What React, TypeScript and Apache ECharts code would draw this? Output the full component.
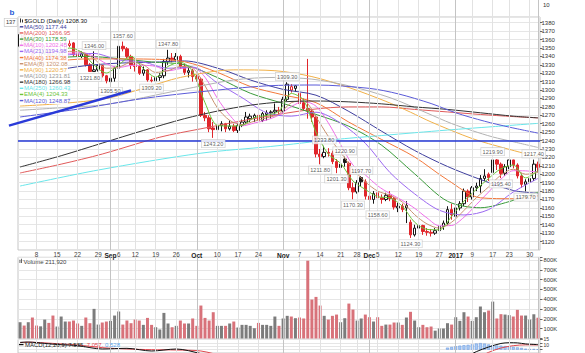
import React, { useEffect, useRef } from 'react';
import * as echarts from 'echarts';

const FONT = '"Liberation Sans", Arial, sans-serif';

const dates = [
  'Aug 2','Aug 3','Aug 4','Aug 5','Aug 8','Aug 9','Aug 10','Aug 11','Aug 12','Aug 15','Aug 16','Aug 17','Aug 18','Aug 19','Aug 22','Aug 23','Aug 24','Aug 25','Aug 26','Aug 29','Aug 30','Aug 31',
  'Sep 1','Sep 2','Sep 6','Sep 7','Sep 8','Sep 9','Sep 12','Sep 13','Sep 14','Sep 15','Sep 16','Sep 19','Sep 20','Sep 21','Sep 22','Sep 23','Sep 26','Sep 27','Sep 28','Sep 29','Sep 30',
  'Oct 3','Oct 4','Oct 5','Oct 6','Oct 7','Oct 10','Oct 11','Oct 12','Oct 13','Oct 14','Oct 17','Oct 18','Oct 19','Oct 20','Oct 21','Oct 24','Oct 25','Oct 26','Oct 27','Oct 28','Oct 31',
  'Nov 1','Nov 2','Nov 3','Nov 4','Nov 7','Nov 8','Nov 9','Nov 10','Nov 11','Nov 14','Nov 15','Nov 16','Nov 17','Nov 18','Nov 21','Nov 22','Nov 23','Nov 25','Nov 28','Nov 29','Nov 30',
  'Dec 1','Dec 2','Dec 5','Dec 6','Dec 7','Dec 8','Dec 9','Dec 12','Dec 13','Dec 14','Dec 15','Dec 16','Dec 19','Dec 20','Dec 21','Dec 22','Dec 23','Dec 27','Dec 28','Dec 29','Dec 30',
  'Jan 3','Jan 4','Jan 5','Jan 6','Jan 9','Jan 10','Jan 11','Jan 12','Jan 13','Jan 17','Jan 18','Jan 19','Jan 20','Jan 23','Jan 24','Jan 25','Jan 26','Jan 27','Jan 30','Jan 31',
  'Feb 1',
];

const opens = [
  1352,1365,1357,1362,1337,1334,1344,1348,1339,1337,
  1340,1347,1353,1356,1343,1340,1343,1330,1322,1324,
  1329,1317,1310,1314,1326,1352,1349,1340,1330,1328,
  1320,1324,1312,1311,1315,1317,1334,1338,1336,1340,
  1328,1321,1323,1316,1313,1270,1267,1255,1253,1258,
  1260,1254,1257,1252,1258,1262,1266,1267,1270,1264,
  1271,1273,1274,1276,1275,1289,1300,1302,1296,1285,
  1278,1275,1268,1224,1221,1226,1225,1215,1208,1218,
  1213,1184,1179,1196,1191,1174,1170,1178,1172,1170,
  1175,1171,1160,1162,1160,1143,1128,1136,1139,1132,
  1131,1130,1133,1138,1142,1158,1150,1160,1165,1180,
  1173,1184,1186,1195,1200,1202,1217,1212,1201,1209,
  1217,1211,1198,1188,1191,1195,1212,
];
const highs = [
  1375,1368,1364,1366,1341,1350,1353,1351,1344,1344,
  1357,1358,1359,1357,1345,1346,1344,1332,1346,1331,
  1330,1318,1318,1328,1354,1357.6,1351,1342,1334,1330,
  1328,1325,1316,1318,1320,1337,1347.8,1344,1344,1342,
  1331,1328,1325,1318,1315,1274,1270,1262,1265,1263,
  1261,1264,1260,1261,1265,1274,1272,1272,1272,1274,
  1276,1276,1284,1280,1292,1309.3,1307,1306,1300,1290,
  1337,1278,1270,1230,1233.8,1231,1228,1218,1216,1220.9,
  1215,1190,1193,1197.7,1194,1178,1180,1180,1176,1178,
  1180,1173,1166,1165,1168,1146,1140,1144,1140,1136,
  1135,1136,1140,1145,1162,1165,1164,1168,1183,1182,
  1186,1190,1199,1206,1202,1219.9,1218,1214,1212,1217,
  1217.2,1213,1201,1194,1198,1217.4,1215,
];
const lows = [
  1350,1352,1352,1334,1330,1333,1342,1336,1333,1335,
  1338,1345,1351,1340,1336,1338,1328,1321.8,1322,1322,
  1315,1308,1305.5,1310,1325,1346,1338,1325,1322,1318,
  1317,1310,1309.2,1309.5,1311,1314,1330,1333,1334,1325,
  1318,1315,1310,1310,1268,1263,1250,1243.2,1252,1251,
  1250,1252,1250,1249,1256,1260,1262,1262,1262,1262,
  1264,1266,1270,1271,1273,1287,1297,1298,1281,1276,
  1266,1262,1220,1211.8,1219,1221,1212,1201.3,1204,1209,
  1181,1170.3,1177,1186,1170,1163,1165,1158.6,1165,1168,
  1168,1158,1155,1155,1142,1124.3,1126,1133,1128,1127,
  1126,1128,1130,1134,1140,1146,1146,1157,1162,1167,
  1170,1180,1178,1192,1192,1200,1205,1195.4,1198,1206,
  1207,1195,1184,1179.7,1186,1192,1202,
];
const closes = [
  1366,1357,1362,1337,1334,1344,1348,1339,1337,1340,
  1347,1356,1355,1342,1340,1343,1330,1322,1324,1329,
  1317,1311,1314,1326,1352,1349,1340,1330,1328,1320,
  1324,1312,1311,1315,1317,1334,1338,1336,1340,1328,
  1321,1323,1316,1313,1270,1267,1254,1253,1258,1260,
  1254,1257,1252,1258,1262,1268,1269,1270,1264,1272,
  1273,1274,1276,1275,1289,1307,1304,1305,1284,1278,
  1275,1268,1224,1221,1226,1225,1215,1208,1212,1214,
  1184,1179,1190,1191,1174,1170,1177,1172,1170,1175,
  1171,1161,1162,1158,1163,1128,1136,1139,1132,1131,
  1130,1133,1138,1142,1158,1152,1160,1165,1180,1173,
  1184,1186,1195,1198,1196,1217,1212,1201,1209,1217,
  1211,1198,1188,1191,1195,1212,1208.3,
];
const volumesK = [
  166,132,166,214,132,124,193,159,234,122,
  224,173,173,183,153,129,214,156,302,142,
  163,173,180,234,275,142,183,156,193,183,
  139,210,139,115,92,261,153,115,129,183,
  153,153,204,129,336,210,183,268,129,129,
  129,153,173,112,139,139,129,105,159,139,
  139,129,224,129,204,231,224,207,214,204,
  793,397,424,336,231,193,231,244,166,207,
  356,295,183,204,244,217,173,217,129,142,
  142,163,163,139,214,272,183,115,139,115,
  122,80,102,102,156,142,217,180,268,224,
  180,217,326,268,285,376,204,248,244,238,
  224,292,234,234,193,247,211.92,
];
const volumeTicks = [100, 200, 300, 400, 500, 600, 700, 800];

// moving-average lines read at sampled days: [day index, value]
const ma50 = [[0,1316],[8,1323],[16,1329],[24,1332],[32,1333],[40,1334.6],[49,1324.6],[56,1312],[64,1300.8],[72,1293.9],[80,1274.6],[88,1251],[96,1228.2],[104,1209.2],[112,1193.8],[120,1180.7],[126,1177.44]];
const ma200 = [[0,1201.5],[10,1212],[20,1224],[34,1244],[44,1254],[58,1267],[71,1277],[80,1280],[88,1280],[96,1277],[104,1274],[112,1271],[120,1268.5],[126,1266.95]];
const ma30 = [[0,1335],[8,1338],[16,1340],[24,1337.4],[32,1333.4],[40,1330.1],[48,1314.9],[56,1296.3],[64,1284.1],[72,1271.1],[80,1257],[88,1234.4],[96,1200.5],[104,1167.9],[112,1160.2],[120,1168.9],[126,1178.59]];
const ma10 = [[0,1335.6],[3,1345.2],[6,1349.2],[9,1346.4],[12,1343.7],[15,1344.7],[18,1339.9],[21,1331.3],[24,1326.8],[27,1329.2],[30,1329.4],[33,1328.1],[36,1322.9],[39,1325.5],[42,1326.8],[45,1315.2],[48,1290.3],[51,1270.2],[54,1257.5],[57,1260.8],[60,1264.5],[63,1270.3],[66,1280.4],[69,1286.5],[72,1280.9],[75,1261],[78,1235.2],[81,1210.8],[84,1199.2],[87,1186.3],[90,1176.9],[93,1169],[96,1159.6],[99,1148.1],[102,1138.8],[105,1139.1],[108,1148.9],[111,1163.8],[114,1178.9],[117,1194.2],[120,1204.2],[123,1204],[126,1202.45]];
const ma21 = [[0,1336],[6,1338],[12,1342],[18,1343.5],[24,1335.7],[30,1333.3],[36,1325.9],[42,1327.3],[48,1308.5],[54,1291],[60,1273],[66,1269],[72,1273.7],[78,1260.7],[84,1236.8],[90,1202],[96,1176.7],[102,1157.2],[108,1151.6],[114,1158],[120,1178.9],[126,1194.98]];
const ma40 = [[0,1330],[8,1334],[16,1337],[24,1337],[32,1336.7],[40,1333.7],[48,1321.1],[56,1304.3],[64,1294.3],[72,1285],[80,1261.9],[88,1241.2],[96,1220.5],[104,1193.3],[112,1172],[120,1170.9],[126,1174.38]];
const ema8 = [[0,1352],[3,1352],[6,1348],[9,1343],[12,1346],[15,1345],[18,1337],[21,1326],[24,1327],[27,1333],[30,1330],[33,1321],[36,1323],[39,1328],[42,1326],[45,1305],[48,1279],[51,1264],[54,1259],[57,1263],[60,1267],[63,1271.5],[66,1285],[69,1287],[72,1268],[75,1245],[78,1226],[81,1206],[84,1191],[87,1180],[90,1175],[93,1167],[96,1152],[99,1141],[102,1136],[105,1143],[108,1157],[111,1172],[114,1185],[117,1199],[120,1206],[123,1200],[126,1202.08]];
const ma90 = [[0,1281],[10,1284],[21,1290],[30,1302],[39,1315],[52,1324],[62,1323],[71,1316],[80,1303],[89,1286.6],[95,1273.7],[100,1262.1],[110,1242.4],[118,1230.9],[126,1220.57]];
const ma100 = [[0,1276],[10,1279],[21,1283],[39,1300],[52,1312],[62,1315],[71,1313],[80,1305],[90,1291],[99,1272.7],[105,1260.2],[110,1251.8],[115,1244.3],[120,1238.6],[126,1231.81]];
const ma180 = [[0,1208.6],[10,1222],[20,1237],[30,1252],[40,1266],[48,1275],[56,1282],[64,1286],[72,1287],[80,1286],[88,1283.6],[96,1280],[104,1277],[112,1273],[120,1269],[126,1266.98]];
const ma250 = [[0,1186],[19,1205],[44,1225],[61,1233],[76,1241],[88,1246],[104,1252.5],[115,1256.5],[126,1260.43]];
const ema4 = [[0,1360],[3,1352],[6,1343],[9,1341],[12,1350],[15,1345],[18,1329.8],[21,1320.3],[24,1330],[27,1340],[30,1325.5],[33,1315.5],[36,1328],[39,1333],[42,1322],[45,1285],[48,1258],[51,1257.3],[54,1258],[57,1267.3],[60,1270],[63,1275],[66,1296],[69,1288],[72,1250],[75,1224],[78,1213],[81,1192],[84,1182],[87,1173.3],[90,1172],[93,1162],[96,1143],[99,1134.5],[102,1134],[105,1150],[108,1168],[111,1182],[114,1195],[117,1206.5],[120,1211],[123,1195.6],[126,1204.33]];
const ma120 = [[0,1268],[15,1278],[30,1290],[44,1298],[60,1305],[72,1306],[85,1302],[92,1295.5],[100,1284],[106,1273],[113,1263],[119,1256],[126,1248.87]];

const legendNames = ['MA(50)','MA(200)','MA(30)','MA(10)','MA(21)','MA(40)','EMA(8)','MA(90)','MA(100)','MA(180)','MA(250)','EMA(4)','MA(120)'];
const legendValues = ['1177.44','1266.95','1178.59','1202.45','1194.98','1174.38','1202.08','1220.57','1231.81','1266.98','1260.43','1204.33','1248.87'];
const lineColors = ['#3f3f9e','#e05a5a','#3a9a3a','#ef6ee9','#9b68f0','#f2783a','#c89270','#f0b048','#b2b2b2','#333333','#6ae6ea','#6cc43a','#5a5ad8'];
const lineData = [ma50, ma200, ma30, ma10, ma21, ma40, ema8, ma90, ma100, ma180, ma250, ema4, ma120];

const macdLine = [[0,10.9],[2,11.4],[4,10.6],[6,9.4],[8,8.2],[10,7.4],[14,6],[20,1],[26,2],[32,-2],[38,1],[44,-6],[50,-16],[58,-17],[66,-6],[72,-14],[80,-26],[90,-30],[96,-32],[104,-24],[108,-12],[111,-3],[114,4],[117,9.3],[119,10.4],[121,10.2],[123,8.6],[126,7.585]];
const macdSignal = [[0,10.6],[2,11.2],[4,10.9],[6,10.2],[8,9.4],[10,8.6],[14,7],[20,3],[26,1],[32,0],[38,-0.5],[44,-2],[50,-10],[58,-15],[66,-11],[72,-11],[80,-20],[90,-27],[96,-30],[104,-28],[108,-19.8],[111,-13],[114,-4],[117,2.5],[120,6],[123,7.2],[126,7.057]];
const macdHist = [[104,3],[105,4],[106,5],[107,6],[108,6.6],[109,7.2],[110,8],[111,9.2],[112,9.8],[113,9.1],[114,7.8],[115,6.8],[116,6.2],[117,6],[118,5.4],[119,4.8],[120,4.2],[121,3.4],[122,2.6],[123,1.4],[124,0.8],[125,0.9],[126,0.528]];
const macdTicks = [15, 10];

const annIdx = [17,18,22,25,32,36,47,65,73,74,77,79,81,83,87,95,115,117,123,125];
const annVal = [1321.8,1346,1305.5,1357.6,1309.2,1347.8,1243.2,1309.3,1211.8,1233.8,1201.3,1220.9,1170.3,1197.7,1158.6,1124.3,1219.9,1195.4,1179.7,1217.4];
const annSide = ['bottom','top','bottom','top','bottom','top','bottom','top','bottom','top','bottom','top','bottom','top','bottom','bottom','top','bottom','bottom','top'];

const tickIdx = [4,9,14,19,22,24,28,33,38,43,48,53,58,64,68,73,78,82,85,87,92,97,102,106,110,115,119,124,126];
const tickText = ['8','15','22','29','Sep','6','12','19','26','Oct','10','17','24','Nov','7','14','21','28','Dec','5','12','19','27','2017','9','17','23','30','Feb'];
const monthLabels = ['Sep','Oct','Nov','Dec','2017','Feb'];

const levelPrice = 1240;
const trendIdx = [0, 27];
const trendVal = [1261.5, 1299.5];

export default function App() {
  const ref = useRef<HTMLDivElement>(null);

  useEffect(() => {
    const chart = echarts.init(ref.current!, undefined, { renderer: 'svg', width: 585, height: 353 });
    const tickMap = new Map<number, number>(tickIdx.map((i, k) => [i, k]));

    const mkX = (gi: number, labels: boolean) => ({
      type: 'category', gridIndex: gi, data: dates, boundaryGap: true,
      axisLine: { show: false }, axisTick: { show: false }, splitLine: { show: false },
      axisLabel: labels ? {
        show: true,
        interval: (i: number) => tickMap.has(i),
        margin: 1.5, fontSize: 6.3, color: '#444', fontFamily: FONT,
        formatter: (_v: string, i: number) => {
          const t = tickText[tickMap.get(i) as number];
          return monthLabels.includes(t) ? `{m|${t}}` : t;
        },
        rich: { m: { fontWeight: 'bold', fontSize: 6.6, color: '#222', fontFamily: FONT } },
      } : { show: false },
    });

    const gridLines = (gi: number) => ({
      type: 'line', xAxisIndex: gi, yAxisIndex: gi, data: dates.map(() => null), silent: true, z: 1,
      showSymbol: false,
      markLine: {
        silent: true, symbol: ['none', 'none'], label: { show: false }, animation: false,
        data: tickIdx.map((idx, k) => ({
          xAxis: dates[idx],
          lineStyle: { color: monthLabels.includes(tickText[k]) ? '#c4c4c4' : '#e2e2e2', width: 1, type: 'solid' },
        })),
      },
    });

    const candleData = dates.map((_d, i) => {
      const o = opens[i], c = closes[i];
      const prev = i > 0 ? closes[i - 1] : o;
      const col = c < prev ? '#e0262b' : '#161616';
      const hollow = c >= o;
      return {
        value: [o, c, lows[i], highs[i]],
        itemStyle: {
          color: hollow ? '#ffffff' : col, color0: hollow ? '#ffffff' : col,
          borderColor: col, borderColor0: col, borderColorDoji: col, borderWidth: 1,
        },
      };
    });

    const maSeries = lineData.map((arr, k) => ({
      type: 'line', xAxisIndex: 1, yAxisIndex: 1, silent: true, z: 3,
      data: arr.map(([i, v]) => [dates[i], v]),
      showSymbol: false, smooth: 0.3,
      lineStyle: { width: 1, color: lineColors[k] },
    }));

    const axisLabelBase = { fontSize: 6, color: '#333', margin: 1.5, fontFamily: FONT, showMinLabel: false, showMaxLabel: false };
    const split = { show: true, lineStyle: { color: '#e6e6e6', width: 1 } };

    const graphics: any[] = [];
    graphics.push({ type: 'text', x: 9.5, y: 12.5, z: 100, style: { text: 'b', fill: '#2a5bd7', font: `bold 8px ${FONT}`, verticalAlign: 'middle' } });
    graphics.push({ type: 'text', x: 543, y: 5, z: 100, style: { text: '10', fill: '#333', font: `6px ${FONT}`, verticalAlign: 'middle' } });
    graphics.push({ type: 'text', x: 4.5, y: 22.3, z: 98, style: { text: '137', fill: '#333', font: `5.6px ${FONT}`, verticalAlign: 'middle', backgroundColor: '#fff', borderColor: '#c4c4c4', borderWidth: 0.6, padding: [1, 1.5, 0.5, 1.5] } });
    // legend backgrounds
    graphics.push({ type: 'rect', z: 99, shape: { x: 19, y: 17.5, width: 82, height: 6.4 }, style: { fill: 'rgba(255,255,255,0.93)' } });
    graphics.push({ type: 'rect', z: 99, shape: { x: 19, y: 23.6, width: 49, height: 80.3 }, style: { fill: 'rgba(255,255,255,0.93)' } });
    graphics.push({ type: 'rect', z: 100, shape: { x: 20, y: 18.5, width: 1, height: 4 }, style: { fill: '#333' } });
    graphics.push({ type: 'rect', z: 100, shape: { x: 22, y: 19.5, width: 1, height: 3 }, style: { fill: '#333' } });
    graphics.push({ type: 'text', x: 24.5, y: 20.8, z: 100, style: { text: '$GOLD (Daily) 1208.30', fill: '#111', font: `6px ${FONT}`, verticalAlign: 'middle' } });
    legendNames.forEach((n, k) => {
      const y = 26.8 + k * 6.15;
      graphics.push({ type: 'line', z: 100, shape: { x1: 19.8, y1: y, x2: 23.3, y2: y }, style: { stroke: lineColors[k], lineWidth: 1.4 } });
      graphics.push({ type: 'text', x: 24, y, z: 100, style: { text: `${n} ${legendValues[k]}`, fill: lineColors[k] === '#b2b2b2' ? '#9a9a9a' : lineColors[k], font: `6px ${FONT}`, verticalAlign: 'middle' } });
    });
    // volume label
    graphics.push({ type: 'rect', z: 100, shape: { x: 19.5, y: 259.8, width: 0.9, height: 3.2 }, style: { fill: '#555' } });
    graphics.push({ type: 'rect', z: 100, shape: { x: 21, y: 258.8, width: 0.9, height: 4.2 }, style: { fill: '#555' } });
    graphics.push({ type: 'text', x: 23.5, y: 262, z: 100, style: { text: 'Volume 211,920', fill: '#444', font: `6px ${FONT}`, verticalAlign: 'middle' } });
    // MACD label
    graphics.push({ type: 'line', z: 100, shape: { x1: 19, y1: 344.6, x2: 23.5, y2: 344.6 }, style: { stroke: '#111', lineWidth: 1.2 } });
    graphics.push({
      type: 'text', x: 25, y: 344.6, z: 100,
      style: {
        text: '{k|MACD(12,26,9) 7.585,} {r|7.057,} {b|0.528}', verticalAlign: 'middle', font: `6px ${FONT}`,
        rich: {
          k: { fill: '#222', font: `6px ${FONT}` },
          r: { fill: '#e0484f', font: `6px ${FONT}` },
          b: { fill: '#5aa7ee', font: `6px ${FONT}` },
        },
      },
    });

    const option: any = {
      animation: false,
      backgroundColor: '#ffffff',
      grid: [
        { left: 18, right: 45, top: 0, height: 17, show: false },
        { left: 18, right: 45, top: 17, height: 233, show: true, borderColor: '#c6c6c6', borderWidth: 1 },
        { left: 18, right: 45, top: 257.3, height: 81.2, show: true, borderColor: '#c6c6c6', borderWidth: 1 },
        { left: 18, right: 45, top: 339.5, height: 40.5, show: true, borderColor: '#c6c6c6', borderWidth: 1 },
      ],
      xAxis: [mkX(0, false), mkX(1, true), mkX(2, false), mkX(3, false)],
      yAxis: [
        { gridIndex: 0, type: 'value', min: 0, max: 20, show: false },
        {
          gridIndex: 1, type: 'value', position: 'right', min: 1110, max: 1386.8, interval: 10,
          splitLine: split, axisLine: { show: false },
          axisTick: { show: true, length: 2.5, lineStyle: { color: '#666' } },
          axisLabel: { ...axisLabelBase, formatter: (v: number) => (v >= 1120 && v <= 1380 && Math.abs(v % 10) < 1e-6 ? String(v) : '') },
        },
        {
          gridIndex: 2, type: 'value', position: 'right', min: 0, max: 827.7, interval: 100,
          splitLine: split, axisLine: { show: false },
          axisTick: { show: true, length: 2.5, lineStyle: { color: '#666' } },
          axisLabel: { show: false },
        },
        {
          gridIndex: 3, type: 'value', position: 'right', min: -5, max: 15.25, interval: 5,
          splitLine: split, axisLine: { show: false },
          axisTick: { show: true, length: 2.5, lineStyle: { color: '#666' } },
          axisLabel: { show: false },
        },
      ],
      series: [
        gridLines(0), gridLines(1), gridLines(2), gridLines(3),
        ...maSeries,
        {
          type: 'candlestick', xAxisIndex: 1, yAxisIndex: 1, data: candleData, barWidth: 3, z: 2, silent: true,
        },
        {
          type: 'line', xAxisIndex: 1, yAxisIndex: 1, data: dates.map(() => null), silent: true, z: 4, showSymbol: false,
          markLine: {
            silent: true, symbol: ['none', 'none'], label: { show: false }, animation: false,
            data: [{ yAxis: levelPrice, lineStyle: { color: '#2438d6', width: 1.5, type: 'solid' } }],
          },
        },
        {
          type: 'scatter', xAxisIndex: 1, yAxisIndex: 1, silent: true, z: 6, symbolSize: 0.1,
          itemStyle: { color: 'rgba(0,0,0,0)' },
          data: annIdx.map((idx, k) => ({
            value: [dates[idx], annVal[k]],
            label: {
              show: true, position: annSide[k], distance: 2, formatter: annVal[k].toFixed(2),
              fontSize: 5.6, color: '#333', fontFamily: FONT, backgroundColor: '#ffffff',
              borderColor: '#c4c4c4', borderWidth: 0.6, padding: [1, 1.5, 0.5, 1.5],
            },
          })),
        },
        {
          type: 'bar', xAxisIndex: 2, yAxisIndex: 2, barWidth: 3, silent: true, z: 2,
          data: volumesK.map((v, i) => ({
            value: v,
            itemStyle: { color: i > 0 && closes[i] < closes[i - 1] ? '#d8727a' : '#7c7c7c' },
          })),
        },
        {
          type: 'bar', xAxisIndex: 3, yAxisIndex: 3, barWidth: 3, silent: true, z: 2,
          data: macdHist.map(([i, v]) => [dates[i], v]),
          itemStyle: { color: '#a9cbf5', borderColor: '#5c8fdc', borderWidth: 0.5 },
        },
        {
          type: 'line', xAxisIndex: 3, yAxisIndex: 3, silent: true, z: 3, showSymbol: false, smooth: 0.3,
          data: macdSignal.map(([i, v]) => [dates[i], v]), lineStyle: { color: '#e0484f', width: 1 },
        },
        {
          type: 'line', xAxisIndex: 3, yAxisIndex: 3, silent: true, z: 3, showSymbol: false, smooth: 0.3,
          data: macdLine.map(([i, v]) => [dates[i], v]), lineStyle: { color: '#111', width: 1 },
        },
      ],
      graphic: { elements: graphics },
    };

    chart.setOption(option);

    const extra: any[] = [];
    // volume axis labels at their axis values
    volumeTicks.forEach((v, k) => {
      const p = chart.convertToPixel({ gridIndex: 2 }, [dates[0], v]) as number[];
      if (p) {
        extra.push({
          id: `vt${k}`, type: 'text', x: 543.5, y: p[1], z: 100,
          style: { text: `${v}K`, fill: '#333', font: `5.8px ${FONT}`, verticalAlign: 'middle' },
        });
      }
    });
    // MACD axis labels near their axis values, nudged apart slightly
    macdTicks.forEach((v, k) => {
      const p = chart.convertToPixel({ gridIndex: 3 }, [dates[0], v]) as number[];
      if (p) {
        extra.push({
          id: `mt${k}`, type: 'text', x: 543.5, y: p[1] + (k === 0 ? -0.6 : 1.6), z: 100,
          style: { text: String(v), fill: '#333', font: `5px ${FONT}`, verticalAlign: 'middle' },
        });
      }
    });

    const p0 = chart.convertToPixel({ gridIndex: 1 }, [dates[trendIdx[0]], trendVal[0]]) as number[];
    const p1 = chart.convertToPixel({ gridIndex: 1 }, [dates[trendIdx[1]], trendVal[1]]) as number[];
    if (p0 && p1) {
      const sx = p0[0] - (p1[0] - p0[0]) * 0.1;
      const sy = p0[1] - (p1[1] - p0[1]) * 0.1;
      extra.push({
        id: 'trend', type: 'line', z: 10,
        shape: { x1: sx, y1: sy, x2: p1[0], y2: p1[1] },
        style: { stroke: '#2a3ad8', lineWidth: 2.4 },
      });
    }
    chart.setOption({ graphic: { elements: extra } });

    return () => chart.dispose();
  }, []);

  return (
    <div
      ref={ref}
      style={{ position: 'fixed', left: 0, top: 0, width: 585, height: 353, background: '#fff' }}
    />
  );
}
